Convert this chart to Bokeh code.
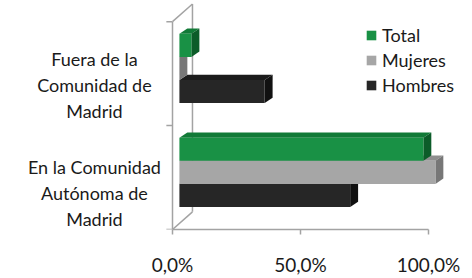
from bokeh.plotting import figure
from bokeh.models import Range1d, Legend, LegendItem, FixedTicker
from bokeh.core.properties import value
from bokeh.embed import file_html
from bokeh.resources import INLINE

# ---- data ----
categories = ["En la Comunidad\nAutónoma de\nMadrid", "Fuera de la\nComunidad de\nMadrid"]
series_names = ["Hombres", "Mujeres", "Total"]
hombres = [0.667, 0.333]
mujeres = [1.000, 0.000]
total = [0.953, 0.047]
x_ticks = [0.0, 0.5, 1.0]
x_tick_labels = ["0,0%", "50,0%", "100,0%"]

# ---- style ----
FONT = "Lato"
TXT = "#1a1a1a"
front_colors = ["#262626", "#a6a6a6", "#199145"]
top_colors = ["#1b1b1b", "#8e8e8e", "#117a37"]
side_colors = ["#111111", "#777777", "#0c5c29"]
AX = "#a3a3a3"

BAR_H = 0.222          # bar thickness (y units)
OFFS = [-0.222, 0.0, 0.222]
X0 = 0.027             # bar depth offset from front plane
DX = 0.031             # 3D depth in x
DY = 0.051             # 3D depth in y
BACK_DX = 0.078
BACK_DY = 0.17
FRONT_SHIFT = -0.55
LABEL_DY = [-0.2, -0.16]

p = figure(width=472, height=278, output_backend="svg", toolbar_location=None,
           x_range=Range1d(-0.6719, 1.1719), y_range=Range1d(-0.55, 1.6537),
           min_border_left=0, min_border_right=0, min_border_top=0, min_border_bottom=40)
p.outline_line_color = None
p.xgrid.visible = False
p.ygrid.visible = False
p.yaxis.visible = False
p.background_fill_color = "white"

# 3D walls
n = len(categories)
front_bottom = FRONT_SHIFT
front_top = FRONT_SHIFT + n
p.segment(x0=[0, 0, 0, BACK_DX], y0=[front_bottom, front_bottom, front_top, front_bottom + BACK_DY],
          x1=[0, BACK_DX, BACK_DX, BACK_DX], y1=[front_top, front_bottom + BACK_DY, front_top + BACK_DY, front_top + BACK_DY],
          line_color=AX, line_width=1.5)
# category ticks at left
tick_y = [FRONT_SHIFT + k for k in range(n + 1)]
p.segment(x0=[-0.024] * len(tick_y), y0=tick_y, x1=[0] * len(tick_y), y1=tick_y, line_color=AX, line_width=1.5)

renderers = {}
all_vals = [hombres, mujeres, total]
for si, vals in enumerate(all_vals):
    left, right, bottom, top = [], [], [], []
    tx, ty, sx, sy = [], [], [], []
    for ci, v in enumerate(vals):
        yc = ci + OFFS[si]
        b = yc - BAR_H / 2
        t = yc + BAR_H / 2
        l = X0
        r = X0 + v
        left.append(l); right.append(r); bottom.append(b); top.append(t)
        tx.append([l, l + DX, r + DX, r]); ty.append([t, t + DY, t + DY, t])
        sx.append([r, r + DX, r + DX, r]); sy.append([b, b + DY, t + DY, t])
    p.patches(tx, ty, fill_color=top_colors[si], line_color=None)
    p.patches(sx, sy, fill_color=side_colors[si], line_color=None)
    renderers[series_names[si]] = p.quad(left=left, right=right, bottom=bottom, top=top,
                                         fill_color=front_colors[si], line_color=None)

# category labels
p.text(x=[-0.305] * n, y=[i + LABEL_DY[i] for i in range(n)], text=categories,
       text_font=value(FONT), text_font_size="18px", text_color=TXT,
       text_align="center", text_baseline="middle", text_line_height=1.17)

# x axis
xa = p.xaxis[0]
xa.ticker = FixedTicker(ticks=x_ticks)
xa.major_label_overrides = {t: l for t, l in zip(x_ticks, x_tick_labels)}
xa.bounds = (0, 1)
xa.axis_line_color = AX
xa.axis_line_width = 1.5
xa.major_tick_line_color = AX
xa.major_tick_line_width = 1.5
xa.major_tick_out = 5
xa.major_tick_in = 0
xa.minor_tick_line_color = None
xa.major_label_text_font = FONT
xa.major_label_text_font_size = "19px"
xa.major_label_text_color = TXT
xa.major_label_standoff = 18

legend = Legend(items=[LegendItem(label=name, renderers=[renderers[name]]) for name in ["Total", "Mujeres", "Hombres"]],
                location=(365, 133), padding=0, margin=0, spacing=3,
                glyph_width=12, glyph_height=12, label_standoff=5, label_height=20,
                label_text_font=FONT, label_text_font_size="18px", label_text_color=TXT,
                border_line_color=None, background_fill_alpha=0)
p.add_layout(legend)

open("out.html", "w").write(file_html(p, INLINE))
